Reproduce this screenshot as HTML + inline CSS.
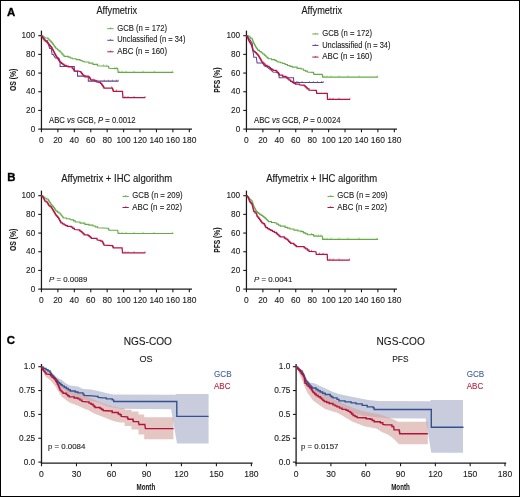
<!DOCTYPE html>
<html><head><meta charset="utf-8"><style>html,body{margin:0;padding:0;background:#fff;width:520px;height:497px;overflow:hidden}</style></head>
<body><svg width="520" height="497" viewBox="0 0 520 497" style="display:block;will-change:transform"><g font-family='"Liberation Sans", sans-serif'><rect x="0" y="0" width="520" height="497" fill="#fff"/><text x="7.0" y="15.6" font-size="11.4" text-anchor="start" font-weight="bold" fill="#000" stroke="#000" stroke-width="0.35" >A</text><text x="96.5" y="14.4" font-size="10.4" text-anchor="start" font-weight="normal" fill="#1a1a1a" stroke="#1a1a1a" stroke-width="0.15" textLength="40.6" lengthAdjust="spacingAndGlyphs" >Affymetrix</text><text x="301.5" y="14.4" font-size="10.4" text-anchor="start" font-weight="normal" fill="#1a1a1a" stroke="#1a1a1a" stroke-width="0.15" textLength="40.6" lengthAdjust="spacingAndGlyphs" >Affymetrix</text><line x1="41.45" y1="30.6" x2="41.45" y2="129.7" stroke="#1a1a1a" stroke-width="1.25"/><line x1="38.25" y1="129.1" x2="41.45" y2="129.1" stroke="#1a1a1a" stroke-width="1.1"/><text x="35.2" y="131.6" font-size="8.2" text-anchor="end" font-weight="normal" fill="#1a1a1a" stroke="#1a1a1a" stroke-width="0.1" >0</text><line x1="38.25" y1="110.42" x2="41.45" y2="110.42" stroke="#1a1a1a" stroke-width="1.1"/><text x="35.2" y="112.92" font-size="8.2" text-anchor="end" font-weight="normal" fill="#1a1a1a" stroke="#1a1a1a" stroke-width="0.1" >20</text><line x1="38.25" y1="91.74" x2="41.45" y2="91.74" stroke="#1a1a1a" stroke-width="1.1"/><text x="35.2" y="94.24" font-size="8.2" text-anchor="end" font-weight="normal" fill="#1a1a1a" stroke="#1a1a1a" stroke-width="0.1" >40</text><line x1="38.25" y1="73.06" x2="41.45" y2="73.06" stroke="#1a1a1a" stroke-width="1.1"/><text x="35.2" y="75.56" font-size="8.2" text-anchor="end" font-weight="normal" fill="#1a1a1a" stroke="#1a1a1a" stroke-width="0.1" >60</text><line x1="38.25" y1="54.38" x2="41.45" y2="54.38" stroke="#1a1a1a" stroke-width="1.1"/><text x="35.2" y="56.88" font-size="8.2" text-anchor="end" font-weight="normal" fill="#1a1a1a" stroke="#1a1a1a" stroke-width="0.1" >80</text><line x1="38.25" y1="35.7" x2="41.45" y2="35.7" stroke="#1a1a1a" stroke-width="1.1"/><text x="35.2" y="38.2" font-size="8.2" text-anchor="end" font-weight="normal" fill="#1a1a1a" stroke="#1a1a1a" stroke-width="0.1" >100</text><line x1="40.85" y1="129.1" x2="192" y2="129.1" stroke="#1a1a1a" stroke-width="1.3"/><line x1="41.45" y1="129.1" x2="41.45" y2="132.3" stroke="#1a1a1a" stroke-width="1.1"/><text x="41.45" y="142.9" font-size="8.45" text-anchor="middle" font-weight="normal" fill="#1a1a1a" stroke="#1a1a1a" stroke-width="0.1" >0</text><line x1="57.88" y1="129.1" x2="57.88" y2="132.3" stroke="#1a1a1a" stroke-width="1.1"/><text x="57.88" y="142.9" font-size="8.45" text-anchor="middle" font-weight="normal" fill="#1a1a1a" stroke="#1a1a1a" stroke-width="0.1" >20</text><line x1="74.31" y1="129.1" x2="74.31" y2="132.3" stroke="#1a1a1a" stroke-width="1.1"/><text x="74.31" y="142.9" font-size="8.45" text-anchor="middle" font-weight="normal" fill="#1a1a1a" stroke="#1a1a1a" stroke-width="0.1" >40</text><line x1="90.74" y1="129.1" x2="90.74" y2="132.3" stroke="#1a1a1a" stroke-width="1.1"/><text x="90.74" y="142.9" font-size="8.45" text-anchor="middle" font-weight="normal" fill="#1a1a1a" stroke="#1a1a1a" stroke-width="0.1" >60</text><line x1="107.17" y1="129.1" x2="107.17" y2="132.3" stroke="#1a1a1a" stroke-width="1.1"/><text x="107.17" y="142.9" font-size="8.45" text-anchor="middle" font-weight="normal" fill="#1a1a1a" stroke="#1a1a1a" stroke-width="0.1" >80</text><line x1="123.6" y1="129.1" x2="123.6" y2="132.3" stroke="#1a1a1a" stroke-width="1.1"/><text x="123.6" y="142.9" font-size="8.45" text-anchor="middle" font-weight="normal" fill="#1a1a1a" stroke="#1a1a1a" stroke-width="0.1" >100</text><line x1="140.03" y1="129.1" x2="140.03" y2="132.3" stroke="#1a1a1a" stroke-width="1.1"/><text x="140.03" y="142.9" font-size="8.45" text-anchor="middle" font-weight="normal" fill="#1a1a1a" stroke="#1a1a1a" stroke-width="0.1" >120</text><line x1="156.46" y1="129.1" x2="156.46" y2="132.3" stroke="#1a1a1a" stroke-width="1.1"/><text x="156.46" y="142.9" font-size="8.45" text-anchor="middle" font-weight="normal" fill="#1a1a1a" stroke="#1a1a1a" stroke-width="0.1" >140</text><line x1="172.89" y1="129.1" x2="172.89" y2="132.3" stroke="#1a1a1a" stroke-width="1.1"/><text x="172.89" y="142.9" font-size="8.45" text-anchor="middle" font-weight="normal" fill="#1a1a1a" stroke="#1a1a1a" stroke-width="0.1" >160</text><line x1="189.32" y1="129.1" x2="189.32" y2="132.3" stroke="#1a1a1a" stroke-width="1.1"/><text x="189.32" y="142.9" font-size="8.45" text-anchor="middle" font-weight="normal" fill="#1a1a1a" stroke="#1a1a1a" stroke-width="0.1" >180</text><text x="0" y="0" font-size="9.6" font-weight="bold" text-anchor="middle" fill="#1a1a1a" stroke="#1a1a1a" stroke-width="0.1" textLength="22.3" lengthAdjust="spacingAndGlyphs" transform="translate(16.099999999999998,79.9) rotate(-90)">OS (%)</text><line x1="246.45" y1="30.6" x2="246.45" y2="129.7" stroke="#1a1a1a" stroke-width="1.25"/><line x1="243.25" y1="129.1" x2="246.45" y2="129.1" stroke="#1a1a1a" stroke-width="1.1"/><text x="240.2" y="131.6" font-size="8.2" text-anchor="end" font-weight="normal" fill="#1a1a1a" stroke="#1a1a1a" stroke-width="0.1" >0</text><line x1="243.25" y1="110.42" x2="246.45" y2="110.42" stroke="#1a1a1a" stroke-width="1.1"/><text x="240.2" y="112.92" font-size="8.2" text-anchor="end" font-weight="normal" fill="#1a1a1a" stroke="#1a1a1a" stroke-width="0.1" >20</text><line x1="243.25" y1="91.74" x2="246.45" y2="91.74" stroke="#1a1a1a" stroke-width="1.1"/><text x="240.2" y="94.24" font-size="8.2" text-anchor="end" font-weight="normal" fill="#1a1a1a" stroke="#1a1a1a" stroke-width="0.1" >40</text><line x1="243.25" y1="73.06" x2="246.45" y2="73.06" stroke="#1a1a1a" stroke-width="1.1"/><text x="240.2" y="75.56" font-size="8.2" text-anchor="end" font-weight="normal" fill="#1a1a1a" stroke="#1a1a1a" stroke-width="0.1" >60</text><line x1="243.25" y1="54.38" x2="246.45" y2="54.38" stroke="#1a1a1a" stroke-width="1.1"/><text x="240.2" y="56.88" font-size="8.2" text-anchor="end" font-weight="normal" fill="#1a1a1a" stroke="#1a1a1a" stroke-width="0.1" >80</text><line x1="243.25" y1="35.7" x2="246.45" y2="35.7" stroke="#1a1a1a" stroke-width="1.1"/><text x="240.2" y="38.2" font-size="8.2" text-anchor="end" font-weight="normal" fill="#1a1a1a" stroke="#1a1a1a" stroke-width="0.1" >100</text><line x1="245.85" y1="129.1" x2="397" y2="129.1" stroke="#1a1a1a" stroke-width="1.3"/><line x1="246.45" y1="129.1" x2="246.45" y2="132.3" stroke="#1a1a1a" stroke-width="1.1"/><text x="246.45" y="142.9" font-size="8.45" text-anchor="middle" font-weight="normal" fill="#1a1a1a" stroke="#1a1a1a" stroke-width="0.1" >0</text><line x1="262.88" y1="129.1" x2="262.88" y2="132.3" stroke="#1a1a1a" stroke-width="1.1"/><text x="262.88" y="142.9" font-size="8.45" text-anchor="middle" font-weight="normal" fill="#1a1a1a" stroke="#1a1a1a" stroke-width="0.1" >20</text><line x1="279.31" y1="129.1" x2="279.31" y2="132.3" stroke="#1a1a1a" stroke-width="1.1"/><text x="279.31" y="142.9" font-size="8.45" text-anchor="middle" font-weight="normal" fill="#1a1a1a" stroke="#1a1a1a" stroke-width="0.1" >40</text><line x1="295.74" y1="129.1" x2="295.74" y2="132.3" stroke="#1a1a1a" stroke-width="1.1"/><text x="295.74" y="142.9" font-size="8.45" text-anchor="middle" font-weight="normal" fill="#1a1a1a" stroke="#1a1a1a" stroke-width="0.1" >60</text><line x1="312.17" y1="129.1" x2="312.17" y2="132.3" stroke="#1a1a1a" stroke-width="1.1"/><text x="312.17" y="142.9" font-size="8.45" text-anchor="middle" font-weight="normal" fill="#1a1a1a" stroke="#1a1a1a" stroke-width="0.1" >80</text><line x1="328.6" y1="129.1" x2="328.6" y2="132.3" stroke="#1a1a1a" stroke-width="1.1"/><text x="328.6" y="142.9" font-size="8.45" text-anchor="middle" font-weight="normal" fill="#1a1a1a" stroke="#1a1a1a" stroke-width="0.1" >100</text><line x1="345.03" y1="129.1" x2="345.03" y2="132.3" stroke="#1a1a1a" stroke-width="1.1"/><text x="345.03" y="142.9" font-size="8.45" text-anchor="middle" font-weight="normal" fill="#1a1a1a" stroke="#1a1a1a" stroke-width="0.1" >120</text><line x1="361.46" y1="129.1" x2="361.46" y2="132.3" stroke="#1a1a1a" stroke-width="1.1"/><text x="361.46" y="142.9" font-size="8.45" text-anchor="middle" font-weight="normal" fill="#1a1a1a" stroke="#1a1a1a" stroke-width="0.1" >140</text><line x1="377.89" y1="129.1" x2="377.89" y2="132.3" stroke="#1a1a1a" stroke-width="1.1"/><text x="377.89" y="142.9" font-size="8.45" text-anchor="middle" font-weight="normal" fill="#1a1a1a" stroke="#1a1a1a" stroke-width="0.1" >160</text><line x1="394.32" y1="129.1" x2="394.32" y2="132.3" stroke="#1a1a1a" stroke-width="1.1"/><text x="394.32" y="142.9" font-size="8.45" text-anchor="middle" font-weight="normal" fill="#1a1a1a" stroke="#1a1a1a" stroke-width="0.1" >180</text><text x="0" y="0" font-size="9.6" font-weight="bold" text-anchor="middle" fill="#1a1a1a" stroke="#1a1a1a" stroke-width="0.1" textLength="25.2" lengthAdjust="spacingAndGlyphs" transform="translate(220.3,80.2) rotate(-90)">PFS (%)</text><line x1="107.3" y1="28.7" x2="113.6" y2="28.7" stroke="#64ad46" stroke-width="1.0"/><line x1="110.45" y1="27.5" x2="110.45" y2="28.7" stroke="#64ad46" stroke-width="0.8"/><text x="117.2" y="30.8" font-size="8.2" text-anchor="start" font-weight="normal" fill="#1a1a1a" stroke="#1a1a1a" stroke-width="0.1" textLength="49.9" lengthAdjust="spacingAndGlyphs" >GCB (n = 172)</text><line x1="107.3" y1="40.3" x2="113.6" y2="40.3" stroke="#5f4494" stroke-width="1.0"/><line x1="110.45" y1="39.1" x2="110.45" y2="40.3" stroke="#5f4494" stroke-width="0.8"/><text x="117.2" y="42.1" font-size="8.2" text-anchor="start" font-weight="normal" fill="#1a1a1a" stroke="#1a1a1a" stroke-width="0.1" textLength="68.3" lengthAdjust="spacingAndGlyphs" >Unclassified (n = 34)</text><line x1="107.3" y1="51.8" x2="113.6" y2="51.8" stroke="#b31645" stroke-width="1.0"/><line x1="110.45" y1="50.6" x2="110.45" y2="51.8" stroke="#b31645" stroke-width="0.8"/><text x="117.2" y="53.5" font-size="8.2" text-anchor="start" font-weight="normal" fill="#1a1a1a" stroke="#1a1a1a" stroke-width="0.1" textLength="49.9" lengthAdjust="spacingAndGlyphs" >ABC (n = 160)</text><line x1="312.3" y1="34.0" x2="318.6" y2="34.0" stroke="#64ad46" stroke-width="1.0"/><line x1="315.45" y1="32.8" x2="315.45" y2="34.0" stroke="#64ad46" stroke-width="0.8"/><text x="322.2" y="36.3" font-size="8.2" text-anchor="start" font-weight="normal" fill="#1a1a1a" stroke="#1a1a1a" stroke-width="0.1" textLength="49.9" lengthAdjust="spacingAndGlyphs" >GCB (n = 172)</text><line x1="312.3" y1="45.4" x2="318.6" y2="45.4" stroke="#5f4494" stroke-width="1.0"/><line x1="315.45" y1="44.2" x2="315.45" y2="45.4" stroke="#5f4494" stroke-width="0.8"/><text x="322.2" y="47.6" font-size="8.2" text-anchor="start" font-weight="normal" fill="#1a1a1a" stroke="#1a1a1a" stroke-width="0.1" textLength="68.3" lengthAdjust="spacingAndGlyphs" >Unclassified (n = 34)</text><line x1="312.3" y1="57.1" x2="318.6" y2="57.1" stroke="#b31645" stroke-width="1.0"/><line x1="315.45" y1="55.9" x2="315.45" y2="57.1" stroke="#b31645" stroke-width="0.8"/><text x="322.2" y="58.8" font-size="8.2" text-anchor="start" font-weight="normal" fill="#1a1a1a" stroke="#1a1a1a" stroke-width="0.1" textLength="49.9" lengthAdjust="spacingAndGlyphs" >ABC (n = 160)</text><text x="49.0" y="122.7" font-size="8.4" text-anchor="start" font-weight="normal" fill="#1a1a1a" stroke="#1a1a1a" stroke-width="0.1" textLength="86.6" lengthAdjust="spacingAndGlyphs" >ABC <tspan font-style="italic">vs</tspan> GCB, <tspan font-style="italic">P</tspan> = 0.0012</text><text x="254.0" y="122.7" font-size="8.4" text-anchor="start" font-weight="normal" fill="#1a1a1a" stroke="#1a1a1a" stroke-width="0.1" textLength="86.5" lengthAdjust="spacingAndGlyphs" >ABC <tspan font-style="italic">vs</tspan> GCB, <tspan font-style="italic">P</tspan> = 0.0024</text><text x="7.3" y="181.0" font-size="11.4" text-anchor="start" font-weight="bold" fill="#000" stroke="#000" stroke-width="0.35" >B</text><text x="61.2" y="182.1" font-size="10.2" text-anchor="start" font-weight="normal" fill="#1a1a1a" stroke="#1a1a1a" stroke-width="0.15" textLength="110.9" lengthAdjust="spacingAndGlyphs" >Affymetrix + IHC algorithm</text><text x="266.2" y="182.1" font-size="10.2" text-anchor="start" font-weight="normal" fill="#1a1a1a" stroke="#1a1a1a" stroke-width="0.15" textLength="110.9" lengthAdjust="spacingAndGlyphs" >Affymetrix + IHC algorithm</text><line x1="41.45" y1="190.6" x2="41.45" y2="289.7" stroke="#1a1a1a" stroke-width="1.25"/><line x1="38.25" y1="289.1" x2="41.45" y2="289.1" stroke="#1a1a1a" stroke-width="1.1"/><text x="35.2" y="291.6" font-size="8.2" text-anchor="end" font-weight="normal" fill="#1a1a1a" stroke="#1a1a1a" stroke-width="0.1" >0</text><line x1="38.25" y1="270.42" x2="41.45" y2="270.42" stroke="#1a1a1a" stroke-width="1.1"/><text x="35.2" y="272.92" font-size="8.2" text-anchor="end" font-weight="normal" fill="#1a1a1a" stroke="#1a1a1a" stroke-width="0.1" >20</text><line x1="38.25" y1="251.74" x2="41.45" y2="251.74" stroke="#1a1a1a" stroke-width="1.1"/><text x="35.2" y="254.24" font-size="8.2" text-anchor="end" font-weight="normal" fill="#1a1a1a" stroke="#1a1a1a" stroke-width="0.1" >40</text><line x1="38.25" y1="233.06" x2="41.45" y2="233.06" stroke="#1a1a1a" stroke-width="1.1"/><text x="35.2" y="235.56" font-size="8.2" text-anchor="end" font-weight="normal" fill="#1a1a1a" stroke="#1a1a1a" stroke-width="0.1" >60</text><line x1="38.25" y1="214.38" x2="41.45" y2="214.38" stroke="#1a1a1a" stroke-width="1.1"/><text x="35.2" y="216.88" font-size="8.2" text-anchor="end" font-weight="normal" fill="#1a1a1a" stroke="#1a1a1a" stroke-width="0.1" >80</text><line x1="38.25" y1="195.7" x2="41.45" y2="195.7" stroke="#1a1a1a" stroke-width="1.1"/><text x="35.2" y="198.2" font-size="8.2" text-anchor="end" font-weight="normal" fill="#1a1a1a" stroke="#1a1a1a" stroke-width="0.1" >100</text><line x1="40.85" y1="289.1" x2="192" y2="289.1" stroke="#1a1a1a" stroke-width="1.3"/><line x1="41.45" y1="289.1" x2="41.45" y2="292.3" stroke="#1a1a1a" stroke-width="1.1"/><text x="41.45" y="302.9" font-size="8.45" text-anchor="middle" font-weight="normal" fill="#1a1a1a" stroke="#1a1a1a" stroke-width="0.1" >0</text><line x1="57.88" y1="289.1" x2="57.88" y2="292.3" stroke="#1a1a1a" stroke-width="1.1"/><text x="57.88" y="302.9" font-size="8.45" text-anchor="middle" font-weight="normal" fill="#1a1a1a" stroke="#1a1a1a" stroke-width="0.1" >20</text><line x1="74.31" y1="289.1" x2="74.31" y2="292.3" stroke="#1a1a1a" stroke-width="1.1"/><text x="74.31" y="302.9" font-size="8.45" text-anchor="middle" font-weight="normal" fill="#1a1a1a" stroke="#1a1a1a" stroke-width="0.1" >40</text><line x1="90.74" y1="289.1" x2="90.74" y2="292.3" stroke="#1a1a1a" stroke-width="1.1"/><text x="90.74" y="302.9" font-size="8.45" text-anchor="middle" font-weight="normal" fill="#1a1a1a" stroke="#1a1a1a" stroke-width="0.1" >60</text><line x1="107.17" y1="289.1" x2="107.17" y2="292.3" stroke="#1a1a1a" stroke-width="1.1"/><text x="107.17" y="302.9" font-size="8.45" text-anchor="middle" font-weight="normal" fill="#1a1a1a" stroke="#1a1a1a" stroke-width="0.1" >80</text><line x1="123.6" y1="289.1" x2="123.6" y2="292.3" stroke="#1a1a1a" stroke-width="1.1"/><text x="123.6" y="302.9" font-size="8.45" text-anchor="middle" font-weight="normal" fill="#1a1a1a" stroke="#1a1a1a" stroke-width="0.1" >100</text><line x1="140.03" y1="289.1" x2="140.03" y2="292.3" stroke="#1a1a1a" stroke-width="1.1"/><text x="140.03" y="302.9" font-size="8.45" text-anchor="middle" font-weight="normal" fill="#1a1a1a" stroke="#1a1a1a" stroke-width="0.1" >120</text><line x1="156.46" y1="289.1" x2="156.46" y2="292.3" stroke="#1a1a1a" stroke-width="1.1"/><text x="156.46" y="302.9" font-size="8.45" text-anchor="middle" font-weight="normal" fill="#1a1a1a" stroke="#1a1a1a" stroke-width="0.1" >140</text><line x1="172.89" y1="289.1" x2="172.89" y2="292.3" stroke="#1a1a1a" stroke-width="1.1"/><text x="172.89" y="302.9" font-size="8.45" text-anchor="middle" font-weight="normal" fill="#1a1a1a" stroke="#1a1a1a" stroke-width="0.1" >160</text><line x1="189.32" y1="289.1" x2="189.32" y2="292.3" stroke="#1a1a1a" stroke-width="1.1"/><text x="189.32" y="302.9" font-size="8.45" text-anchor="middle" font-weight="normal" fill="#1a1a1a" stroke="#1a1a1a" stroke-width="0.1" >180</text><text x="0" y="0" font-size="9.6" font-weight="bold" text-anchor="middle" fill="#1a1a1a" stroke="#1a1a1a" stroke-width="0.1" textLength="22.3" lengthAdjust="spacingAndGlyphs" transform="translate(16.099999999999998,239.9) rotate(-90)">OS (%)</text><line x1="246.45" y1="190.6" x2="246.45" y2="289.7" stroke="#1a1a1a" stroke-width="1.25"/><line x1="243.25" y1="289.1" x2="246.45" y2="289.1" stroke="#1a1a1a" stroke-width="1.1"/><text x="240.2" y="291.6" font-size="8.2" text-anchor="end" font-weight="normal" fill="#1a1a1a" stroke="#1a1a1a" stroke-width="0.1" >0</text><line x1="243.25" y1="270.42" x2="246.45" y2="270.42" stroke="#1a1a1a" stroke-width="1.1"/><text x="240.2" y="272.92" font-size="8.2" text-anchor="end" font-weight="normal" fill="#1a1a1a" stroke="#1a1a1a" stroke-width="0.1" >20</text><line x1="243.25" y1="251.74" x2="246.45" y2="251.74" stroke="#1a1a1a" stroke-width="1.1"/><text x="240.2" y="254.24" font-size="8.2" text-anchor="end" font-weight="normal" fill="#1a1a1a" stroke="#1a1a1a" stroke-width="0.1" >40</text><line x1="243.25" y1="233.06" x2="246.45" y2="233.06" stroke="#1a1a1a" stroke-width="1.1"/><text x="240.2" y="235.56" font-size="8.2" text-anchor="end" font-weight="normal" fill="#1a1a1a" stroke="#1a1a1a" stroke-width="0.1" >60</text><line x1="243.25" y1="214.38" x2="246.45" y2="214.38" stroke="#1a1a1a" stroke-width="1.1"/><text x="240.2" y="216.88" font-size="8.2" text-anchor="end" font-weight="normal" fill="#1a1a1a" stroke="#1a1a1a" stroke-width="0.1" >80</text><line x1="243.25" y1="195.7" x2="246.45" y2="195.7" stroke="#1a1a1a" stroke-width="1.1"/><text x="240.2" y="198.2" font-size="8.2" text-anchor="end" font-weight="normal" fill="#1a1a1a" stroke="#1a1a1a" stroke-width="0.1" >100</text><line x1="245.85" y1="289.1" x2="397" y2="289.1" stroke="#1a1a1a" stroke-width="1.3"/><line x1="246.45" y1="289.1" x2="246.45" y2="292.3" stroke="#1a1a1a" stroke-width="1.1"/><text x="246.45" y="302.9" font-size="8.45" text-anchor="middle" font-weight="normal" fill="#1a1a1a" stroke="#1a1a1a" stroke-width="0.1" >0</text><line x1="262.88" y1="289.1" x2="262.88" y2="292.3" stroke="#1a1a1a" stroke-width="1.1"/><text x="262.88" y="302.9" font-size="8.45" text-anchor="middle" font-weight="normal" fill="#1a1a1a" stroke="#1a1a1a" stroke-width="0.1" >20</text><line x1="279.31" y1="289.1" x2="279.31" y2="292.3" stroke="#1a1a1a" stroke-width="1.1"/><text x="279.31" y="302.9" font-size="8.45" text-anchor="middle" font-weight="normal" fill="#1a1a1a" stroke="#1a1a1a" stroke-width="0.1" >40</text><line x1="295.74" y1="289.1" x2="295.74" y2="292.3" stroke="#1a1a1a" stroke-width="1.1"/><text x="295.74" y="302.9" font-size="8.45" text-anchor="middle" font-weight="normal" fill="#1a1a1a" stroke="#1a1a1a" stroke-width="0.1" >60</text><line x1="312.17" y1="289.1" x2="312.17" y2="292.3" stroke="#1a1a1a" stroke-width="1.1"/><text x="312.17" y="302.9" font-size="8.45" text-anchor="middle" font-weight="normal" fill="#1a1a1a" stroke="#1a1a1a" stroke-width="0.1" >80</text><line x1="328.6" y1="289.1" x2="328.6" y2="292.3" stroke="#1a1a1a" stroke-width="1.1"/><text x="328.6" y="302.9" font-size="8.45" text-anchor="middle" font-weight="normal" fill="#1a1a1a" stroke="#1a1a1a" stroke-width="0.1" >100</text><line x1="345.03" y1="289.1" x2="345.03" y2="292.3" stroke="#1a1a1a" stroke-width="1.1"/><text x="345.03" y="302.9" font-size="8.45" text-anchor="middle" font-weight="normal" fill="#1a1a1a" stroke="#1a1a1a" stroke-width="0.1" >120</text><line x1="361.46" y1="289.1" x2="361.46" y2="292.3" stroke="#1a1a1a" stroke-width="1.1"/><text x="361.46" y="302.9" font-size="8.45" text-anchor="middle" font-weight="normal" fill="#1a1a1a" stroke="#1a1a1a" stroke-width="0.1" >140</text><line x1="377.89" y1="289.1" x2="377.89" y2="292.3" stroke="#1a1a1a" stroke-width="1.1"/><text x="377.89" y="302.9" font-size="8.45" text-anchor="middle" font-weight="normal" fill="#1a1a1a" stroke="#1a1a1a" stroke-width="0.1" >160</text><line x1="394.32" y1="289.1" x2="394.32" y2="292.3" stroke="#1a1a1a" stroke-width="1.1"/><text x="394.32" y="302.9" font-size="8.45" text-anchor="middle" font-weight="normal" fill="#1a1a1a" stroke="#1a1a1a" stroke-width="0.1" >180</text><text x="0" y="0" font-size="9.6" font-weight="bold" text-anchor="middle" fill="#1a1a1a" stroke="#1a1a1a" stroke-width="0.1" textLength="25.2" lengthAdjust="spacingAndGlyphs" transform="translate(220.3,240.2) rotate(-90)">PFS (%)</text><line x1="122.5" y1="196.4" x2="128.8" y2="196.4" stroke="#64ad46" stroke-width="1.0"/><line x1="125.65" y1="195.2" x2="125.65" y2="196.4" stroke="#64ad46" stroke-width="0.8"/><text x="132.3" y="198.1" font-size="8.2" text-anchor="start" font-weight="normal" fill="#1a1a1a" stroke="#1a1a1a" stroke-width="0.1" textLength="50.3" lengthAdjust="spacingAndGlyphs" >GCB (n = 209)</text><line x1="122.5" y1="207.5" x2="128.8" y2="207.5" stroke="#b31645" stroke-width="1.0"/><line x1="125.65" y1="206.3" x2="125.65" y2="207.5" stroke="#b31645" stroke-width="0.8"/><text x="132.3" y="210.2" font-size="8.2" text-anchor="start" font-weight="normal" fill="#1a1a1a" stroke="#1a1a1a" stroke-width="0.1" textLength="49.7" lengthAdjust="spacingAndGlyphs" >ABC (n = 202)</text><line x1="327.5" y1="196.4" x2="333.8" y2="196.4" stroke="#64ad46" stroke-width="1.0"/><line x1="330.65" y1="195.2" x2="330.65" y2="196.4" stroke="#64ad46" stroke-width="0.8"/><text x="337.3" y="198.1" font-size="8.2" text-anchor="start" font-weight="normal" fill="#1a1a1a" stroke="#1a1a1a" stroke-width="0.1" textLength="50.3" lengthAdjust="spacingAndGlyphs" >GCB (n = 209)</text><line x1="327.5" y1="207.5" x2="333.8" y2="207.5" stroke="#b31645" stroke-width="1.0"/><line x1="330.65" y1="206.3" x2="330.65" y2="207.5" stroke="#b31645" stroke-width="0.8"/><text x="337.3" y="210.2" font-size="8.2" text-anchor="start" font-weight="normal" fill="#1a1a1a" stroke="#1a1a1a" stroke-width="0.1" textLength="49.7" lengthAdjust="spacingAndGlyphs" >ABC (n = 202)</text><text x="49.0" y="282.4" font-size="8.0" text-anchor="start" font-weight="normal" fill="#1a1a1a" stroke="#1a1a1a" stroke-width="0.1" textLength="38.3" lengthAdjust="spacingAndGlyphs" ><tspan font-style="italic">P</tspan> = 0.0089</text><text x="254.0" y="282.4" font-size="8.0" text-anchor="start" font-weight="normal" fill="#1a1a1a" stroke="#1a1a1a" stroke-width="0.1" textLength="38.3" lengthAdjust="spacingAndGlyphs" ><tspan font-style="italic">P</tspan> = 0.0041</text><text x="6.8" y="343.9" font-size="11.4" text-anchor="start" font-weight="bold" fill="#000" stroke="#000" stroke-width="0.35" >C</text><line x1="41.5" y1="364.0" x2="41.5" y2="463.65" stroke="#1a1a1a" stroke-width="1.3"/><line x1="38.3" y1="462.1" x2="41.5" y2="462.1" stroke="#1a1a1a" stroke-width="1.1"/><text x="35.2" y="464.7" font-size="8.3" text-anchor="end" font-weight="normal" fill="#1a1a1a" stroke="#1a1a1a" stroke-width="0.1" >0.0</text><line x1="38.3" y1="438.25" x2="41.5" y2="438.25" stroke="#1a1a1a" stroke-width="1.1"/><text x="35.2" y="440.85" font-size="8.3" text-anchor="end" font-weight="normal" fill="#1a1a1a" stroke="#1a1a1a" stroke-width="0.1" >0.25</text><line x1="38.3" y1="414.4" x2="41.5" y2="414.4" stroke="#1a1a1a" stroke-width="1.1"/><text x="35.2" y="417" font-size="8.3" text-anchor="end" font-weight="normal" fill="#1a1a1a" stroke="#1a1a1a" stroke-width="0.1" >0.5</text><line x1="38.3" y1="390.55" x2="41.5" y2="390.55" stroke="#1a1a1a" stroke-width="1.1"/><text x="35.2" y="393.15" font-size="8.3" text-anchor="end" font-weight="normal" fill="#1a1a1a" stroke="#1a1a1a" stroke-width="0.1" >0.75</text><line x1="38.3" y1="366.7" x2="41.5" y2="366.7" stroke="#1a1a1a" stroke-width="1.1"/><text x="35.2" y="369.3" font-size="8.3" text-anchor="end" font-weight="normal" fill="#1a1a1a" stroke="#1a1a1a" stroke-width="0.1" >1.0</text><line x1="40.9" y1="463.05" x2="252.6" y2="463.05" stroke="#1a1a1a" stroke-width="1.3"/><line x1="41.5" y1="463.05" x2="41.5" y2="466.25" stroke="#1a1a1a" stroke-width="1.1"/><text x="41.5" y="476.9" font-size="8.6" text-anchor="middle" font-weight="normal" fill="#1a1a1a" stroke="#1a1a1a" stroke-width="0.1" >0</text><line x1="76.48" y1="463.05" x2="76.48" y2="466.25" stroke="#1a1a1a" stroke-width="1.1"/><text x="76.48" y="476.9" font-size="8.6" text-anchor="middle" font-weight="normal" fill="#1a1a1a" stroke="#1a1a1a" stroke-width="0.1" >30</text><line x1="111.47" y1="463.05" x2="111.47" y2="466.25" stroke="#1a1a1a" stroke-width="1.1"/><text x="111.47" y="476.9" font-size="8.6" text-anchor="middle" font-weight="normal" fill="#1a1a1a" stroke="#1a1a1a" stroke-width="0.1" >60</text><line x1="146.45" y1="463.05" x2="146.45" y2="466.25" stroke="#1a1a1a" stroke-width="1.1"/><text x="146.45" y="476.9" font-size="8.6" text-anchor="middle" font-weight="normal" fill="#1a1a1a" stroke="#1a1a1a" stroke-width="0.1" >90</text><line x1="181.43" y1="463.05" x2="181.43" y2="466.25" stroke="#1a1a1a" stroke-width="1.1"/><text x="181.43" y="476.9" font-size="8.6" text-anchor="middle" font-weight="normal" fill="#1a1a1a" stroke="#1a1a1a" stroke-width="0.1" >120</text><line x1="216.42" y1="463.05" x2="216.42" y2="466.25" stroke="#1a1a1a" stroke-width="1.1"/><text x="216.42" y="476.9" font-size="8.6" text-anchor="middle" font-weight="normal" fill="#1a1a1a" stroke="#1a1a1a" stroke-width="0.1" >150</text><line x1="251.4" y1="463.05" x2="251.4" y2="466.25" stroke="#1a1a1a" stroke-width="1.1"/><text x="251.4" y="476.9" font-size="8.6" text-anchor="middle" font-weight="normal" fill="#1a1a1a" stroke="#1a1a1a" stroke-width="0.1" >180</text><text x="123.7" y="344.9" font-size="10.2" text-anchor="start" font-weight="normal" fill="#1a1a1a" stroke="#1a1a1a" stroke-width="0.1" textLength="48.3" lengthAdjust="spacingAndGlyphs" >NGS-COO</text><text x="139.4" y="361.8" font-size="9.0" text-anchor="start" font-weight="normal" fill="#1a1a1a" stroke="#1a1a1a" stroke-width="0.1" textLength="13.1" lengthAdjust="spacingAndGlyphs" >OS</text><text x="214.0" y="377.2" font-size="8.2" text-anchor="start" font-weight="normal" fill="#46639c" stroke="#46639c" stroke-width="0.1" textLength="17.6" lengthAdjust="spacingAndGlyphs" >GCB</text><text x="214.0" y="388.9" font-size="8.2" text-anchor="start" font-weight="normal" fill="#b8243f" stroke="#b8243f" stroke-width="0.1" textLength="16.5" lengthAdjust="spacingAndGlyphs" >ABC</text><text x="47.9" y="449.3" font-size="7.4" text-anchor="start" font-weight="normal" fill="#1a1a1a" stroke="#1a1a1a" stroke-width="0.1" textLength="37.5" lengthAdjust="spacingAndGlyphs" >p = 0.0084</text><text x="145.9" y="490.0" font-size="9.6" text-anchor="middle" font-weight="bold" fill="#1a1a1a" stroke="#1a1a1a" stroke-width="0.05" textLength="18.6" lengthAdjust="spacingAndGlyphs" >Month</text><line x1="296.1" y1="364.0" x2="296.1" y2="463.65" stroke="#1a1a1a" stroke-width="1.3"/><line x1="292.9" y1="462.1" x2="296.1" y2="462.1" stroke="#1a1a1a" stroke-width="1.1"/><text x="290.4" y="464.7" font-size="8.3" text-anchor="end" font-weight="normal" fill="#1a1a1a" stroke="#1a1a1a" stroke-width="0.1" >0.0</text><line x1="292.9" y1="438.25" x2="296.1" y2="438.25" stroke="#1a1a1a" stroke-width="1.1"/><text x="290.4" y="440.85" font-size="8.3" text-anchor="end" font-weight="normal" fill="#1a1a1a" stroke="#1a1a1a" stroke-width="0.1" >0.25</text><line x1="292.9" y1="414.4" x2="296.1" y2="414.4" stroke="#1a1a1a" stroke-width="1.1"/><text x="290.4" y="417" font-size="8.3" text-anchor="end" font-weight="normal" fill="#1a1a1a" stroke="#1a1a1a" stroke-width="0.1" >0.5</text><line x1="292.9" y1="390.55" x2="296.1" y2="390.55" stroke="#1a1a1a" stroke-width="1.1"/><text x="290.4" y="393.15" font-size="8.3" text-anchor="end" font-weight="normal" fill="#1a1a1a" stroke="#1a1a1a" stroke-width="0.1" >0.75</text><line x1="292.9" y1="366.7" x2="296.1" y2="366.7" stroke="#1a1a1a" stroke-width="1.1"/><text x="290.4" y="369.3" font-size="8.3" text-anchor="end" font-weight="normal" fill="#1a1a1a" stroke="#1a1a1a" stroke-width="0.1" >1.0</text><line x1="295.5" y1="463.05" x2="506.2" y2="463.05" stroke="#1a1a1a" stroke-width="1.3"/><line x1="296.1" y1="463.05" x2="296.1" y2="466.25" stroke="#1a1a1a" stroke-width="1.1"/><text x="296.1" y="476.9" font-size="8.6" text-anchor="middle" font-weight="normal" fill="#1a1a1a" stroke="#1a1a1a" stroke-width="0.1" >0</text><line x1="330.92" y1="463.05" x2="330.92" y2="466.25" stroke="#1a1a1a" stroke-width="1.1"/><text x="330.92" y="476.9" font-size="8.6" text-anchor="middle" font-weight="normal" fill="#1a1a1a" stroke="#1a1a1a" stroke-width="0.1" >30</text><line x1="365.73" y1="463.05" x2="365.73" y2="466.25" stroke="#1a1a1a" stroke-width="1.1"/><text x="365.73" y="476.9" font-size="8.6" text-anchor="middle" font-weight="normal" fill="#1a1a1a" stroke="#1a1a1a" stroke-width="0.1" >60</text><line x1="400.55" y1="463.05" x2="400.55" y2="466.25" stroke="#1a1a1a" stroke-width="1.1"/><text x="400.55" y="476.9" font-size="8.6" text-anchor="middle" font-weight="normal" fill="#1a1a1a" stroke="#1a1a1a" stroke-width="0.1" >90</text><line x1="435.37" y1="463.05" x2="435.37" y2="466.25" stroke="#1a1a1a" stroke-width="1.1"/><text x="435.37" y="476.9" font-size="8.6" text-anchor="middle" font-weight="normal" fill="#1a1a1a" stroke="#1a1a1a" stroke-width="0.1" >120</text><line x1="470.18" y1="463.05" x2="470.18" y2="466.25" stroke="#1a1a1a" stroke-width="1.1"/><text x="470.18" y="476.9" font-size="8.6" text-anchor="middle" font-weight="normal" fill="#1a1a1a" stroke="#1a1a1a" stroke-width="0.1" >150</text><line x1="505.0" y1="463.05" x2="505.0" y2="466.25" stroke="#1a1a1a" stroke-width="1.1"/><text x="505.0" y="476.9" font-size="8.6" text-anchor="middle" font-weight="normal" fill="#1a1a1a" stroke="#1a1a1a" stroke-width="0.1" >180</text><text x="376.5" y="344.9" font-size="10.2" text-anchor="start" font-weight="normal" fill="#1a1a1a" stroke="#1a1a1a" stroke-width="0.1" textLength="48.3" lengthAdjust="spacingAndGlyphs" >NGS-COO</text><text x="392.3" y="361.8" font-size="9.0" text-anchor="start" font-weight="normal" fill="#1a1a1a" stroke="#1a1a1a" stroke-width="0.1" textLength="16.2" lengthAdjust="spacingAndGlyphs" >PFS</text><text x="466.7" y="377.2" font-size="8.2" text-anchor="start" font-weight="normal" fill="#46639c" stroke="#46639c" stroke-width="0.1" textLength="17.6" lengthAdjust="spacingAndGlyphs" >GCB</text><text x="466.7" y="388.9" font-size="8.2" text-anchor="start" font-weight="normal" fill="#b8243f" stroke="#b8243f" stroke-width="0.1" textLength="16.5" lengthAdjust="spacingAndGlyphs" >ABC</text><text x="301.0" y="449.3" font-size="7.4" text-anchor="start" font-weight="normal" fill="#1a1a1a" stroke="#1a1a1a" stroke-width="0.1" textLength="37.5" lengthAdjust="spacingAndGlyphs" >p = 0.0157</text><text x="400.5" y="490.0" font-size="9.6" text-anchor="middle" font-weight="bold" fill="#1a1a1a" stroke="#1a1a1a" stroke-width="0.05" textLength="18.6" lengthAdjust="spacingAndGlyphs" >Month</text><polygon points="41.10,366.80 46.00,369.00 50.00,371.00 54.00,375.10 58.00,378.10 62.00,380.10 66.00,383.60 70.00,385.60 78.00,386.50 83.00,389.00 91.10,389.60 98.10,391.10 108.20,393.60 113.20,394.60 175.70,394.80 175.70,393.90 208.60,393.90 208.60,443.60 177.00,443.60 171.10,409.20 120.30,408.70 108.00,406.60 98.00,402.60 88.00,400.60 78.00,399.10 70.00,395.00 62.00,389.00 58.00,384.60 54.00,379.50 50.00,375.00 46.00,372.00 41.10,367.00" fill="#c8ccdd" stroke="none" /><polygon points="41.10,366.80 46.00,372.00 50.00,373.00 54.00,376.00 58.00,380.50 62.00,385.60 66.00,388.60 70.00,391.10 78.00,393.10 88.00,397.10 98.10,401.60 108.20,405.20 120.00,408.10 124.60,408.10 124.60,409.80 131.50,409.80 131.50,411.50 138.50,411.50 138.50,414.40 144.20,414.40 144.20,417.30 173.40,417.30 173.40,439.20 144.20,439.20 144.20,434.60 138.50,434.60 138.50,429.40 131.50,429.40 131.50,426.00 124.60,426.00 124.60,422.50 120.00,422.50 114.00,421.20 104.00,417.20 94.00,413.50 88.00,410.00 84.00,408.50 78.00,405.80 70.00,402.80 66.00,400.00 62.00,397.00 58.00,390.80 55.00,385.80 50.00,380.00 45.00,376.20 41.10,367.20" fill="rgba(211,163,157,0.62)" stroke="none" /><polygon points="296.40,366.80 302.00,370.60 306.10,379.10 310.00,382.60 315.00,383.60 320.00,386.10 325.00,388.20 333.00,392.00 339.00,394.10 348.10,396.10 358.20,398.10 368.20,400.10 378.30,401.10 430.60,401.30 430.60,400.10 463.00,400.10 463.00,452.70 431.30,452.70 425.60,418.40 388.00,418.20 364.00,416.00 352.00,413.00 340.00,408.00 333.00,404.00 325.00,400.00 320.00,397.00 315.00,394.00 310.00,390.00 306.00,385.00 302.00,376.00 296.40,367.20" fill="#c8ccdd" stroke="none" /><polygon points="296.40,366.80 299.00,370.00 302.00,373.10 305.00,380.10 310.00,386.10 315.00,389.70 320.00,391.70 325.00,394.20 333.00,399.10 343.10,403.60 353.10,408.10 363.20,411.20 373.20,413.20 380.00,414.60 392.70,418.90 398.30,421.70 427.80,421.70 427.80,444.20 399.00,444.20 396.80,441.90 393.10,438.30 388.30,434.70 382.30,432.30 376.20,428.60 364.20,426.20 352.10,421.40 340.00,414.20 337.30,412.70 331.20,410.90 325.20,409.10 319.20,404.90 313.10,400.60 307.10,392.20 304.00,385.00 301.00,377.70 299.00,373.00 296.40,367.20" fill="rgba(211,163,157,0.62)" stroke="none" /><polyline points="41.10,367.10 43.55,367.10 43.55,368.45 46.00,368.45 46.00,369.80 48.00,369.80 48.00,371.05 50.00,371.05 50.00,372.30 50.67,372.30 50.67,373.33 51.33,373.33 51.33,374.37 52.00,374.37 52.00,375.40 53.03,375.40 53.03,376.57 54.07,376.57 54.07,377.73 55.10,377.73 55.10,378.90 56.10,378.90 56.10,380.07 57.10,380.07 57.10,381.23 58.10,381.23 58.10,382.40 59.43,382.40 59.43,383.57 60.77,383.57 60.77,384.73 62.10,384.73 62.10,385.90 64.15,385.90 64.15,387.20 66.20,387.20 66.20,388.50 68.20,388.50 68.20,389.75 70.20,389.75 70.20,391.00 75.20,391.00 75.20,392.00 78.00,392.00 78.00,392.90 82.00,392.90 83.00,392.90 83.00,394.15 84.00,394.15 84.00,395.40 92.10,395.90 97.10,396.40 98.10,396.40 98.10,397.40 103.20,397.90 106.20,397.90 106.20,398.90 112.20,398.90 112.20,399.90 113.70,399.90 113.70,401.50 176.80,401.50 176.80,416.40 208.60,416.40" fill="none" stroke="#34528f" stroke-width="1.4" stroke-linejoin="miter" stroke-linecap="butt" /><polyline points="41.10,367.10 41.83,367.10 41.83,368.18 42.55,368.18 42.55,369.25 43.27,369.25 43.27,370.33 44.00,370.33 44.00,371.40 45.00,371.40 45.00,372.65 46.00,372.65 46.00,373.90 49.10,374.40 50.60,374.40 50.60,375.90 52.10,375.90 52.10,377.40 53.60,377.40 53.60,378.65 55.10,378.65 55.10,379.90 55.85,379.90 55.85,381.25 56.60,381.25 56.60,382.60 57.35,382.60 57.35,383.95 58.10,383.95 58.10,385.30 58.60,385.30 58.60,386.50 59.10,386.50 59.10,387.70 59.60,387.70 59.60,388.90 60.10,388.90 60.10,390.10 61.10,390.10 61.10,391.13 62.10,391.13 62.10,392.17 63.10,392.17 63.10,393.20 66.20,393.20 66.20,394.50 67.70,394.50 67.70,395.70 69.20,395.70 69.20,396.90 74.20,396.90 74.20,398.00 78.00,398.00 78.00,398.90 80.00,398.90 80.00,400.15 82.00,400.15 82.00,401.40 87.00,401.90 89.03,401.90 89.03,403.10 91.07,403.10 91.07,404.30 93.10,404.30 93.10,405.50 94.10,405.50 94.10,406.50 95.10,406.50 95.10,407.50 100.10,407.50 100.10,408.50 101.65,408.50 101.65,409.50 103.20,409.50 103.20,410.50 110.20,411.00 112.20,411.00 112.20,412.50 118.20,412.50 118.20,414.00 120.00,414.00 120.00,414.70 121.20,414.70 121.20,416.40 126.90,416.90 127.50,416.90 127.50,418.10 128.10,418.10 128.10,419.30 132.70,419.30 133.00,419.30 133.00,420.45 133.30,420.45 133.30,421.60 138.50,421.60 139.00,424.50 144.80,424.50 145.40,428.60 173.60,428.60" fill="none" stroke="#b3123c" stroke-width="1.4" stroke-linejoin="miter" stroke-linecap="butt" /><polyline points="296.40,367.10 297.70,367.10 297.70,368.45 299.00,368.45 299.00,369.80 300.50,369.80 300.50,371.05 302.00,371.05 302.00,372.30 302.70,372.30 302.70,373.67 303.40,373.67 303.40,375.03 304.10,375.03 304.10,376.40 304.60,376.40 304.60,377.65 305.10,377.65 305.10,378.90 305.60,378.90 305.60,380.15 306.10,380.15 306.10,381.40 307.10,381.40 307.10,382.57 308.10,382.57 308.10,383.73 309.10,383.73 309.10,384.90 310.10,384.90 310.10,385.93 311.10,385.93 311.10,386.97 312.10,386.97 312.10,388.00 316.10,388.00 316.10,389.50 318.15,389.50 318.15,390.75 320.20,390.75 320.20,392.00 322.70,392.00 322.70,393.25 325.20,393.25 325.20,394.50 330.20,394.50 330.20,396.00 331.60,396.00 331.60,396.95 333.00,396.95 333.00,397.90 337.00,397.90 337.00,399.40 339.00,399.40 339.00,400.90 345.10,400.90 345.10,401.90 351.10,401.90 351.10,402.90 356.10,402.90 356.10,403.90 362.20,403.90 362.20,405.40 367.20,405.40 367.20,406.90 373.20,406.90 373.20,407.90 374.20,407.90 374.20,409.50 431.30,409.50 431.30,427.30 463.50,427.30" fill="none" stroke="#34528f" stroke-width="1.4" stroke-linejoin="miter" stroke-linecap="butt" /><polyline points="296.40,367.10 297.27,367.10 297.27,368.17 298.13,368.17 298.13,369.23 299.00,369.23 299.00,370.30 300.00,370.30 300.00,371.67 301.00,371.67 301.00,373.03 302.00,373.03 302.00,374.40 303.05,374.40 303.05,375.90 304.10,375.90 304.10,377.40 304.30,377.40 304.30,378.60 304.50,378.60 304.50,379.80 304.70,379.80 304.70,381.00 304.90,381.00 304.90,382.20 305.10,382.20 305.10,383.40 306.60,383.40 306.60,384.90 308.10,384.90 308.10,386.40 309.60,386.40 309.60,387.70 311.10,387.70 311.10,389.00 311.77,389.00 311.77,390.17 312.43,390.17 312.43,391.33 313.10,391.33 313.10,392.50 314.60,392.50 314.60,394.00 316.10,394.00 316.10,395.50 318.15,395.50 318.15,396.75 320.20,396.75 320.20,398.00 321.53,398.00 321.53,399.17 322.87,399.17 322.87,400.33 324.20,400.33 324.20,401.50 326.70,401.50 326.70,402.50 329.20,402.50 329.20,403.50 333.00,403.50 333.00,404.90 335.00,404.90 335.00,405.90 337.00,405.90 337.00,406.90 339.55,406.90 339.55,408.15 342.10,408.15 342.10,409.40 346.10,409.40 346.10,410.20 348.10,410.20 348.10,411.35 350.10,411.35 350.10,412.50 351.60,412.50 351.60,414.00 353.10,414.00 353.10,415.50 355.10,415.50 355.10,416.50 357.10,416.50 357.10,417.50 363.20,417.70 366.20,417.70 366.20,418.70 370.20,418.70 370.20,419.30 372.20,419.30 372.20,420.55 374.20,420.55 374.20,421.80 380.30,421.80 380.30,422.80 382.80,422.80 382.80,424.50 385.60,424.90 391.90,424.90 391.90,426.50 393.60,426.50 394.10,429.70 399.00,429.90 399.23,429.90 399.23,431.17 399.47,431.17 399.47,432.43 399.70,432.43 399.70,433.70 427.80,433.70" fill="none" stroke="#b3123c" stroke-width="1.4" stroke-linejoin="miter" stroke-linecap="butt" /><polyline points="41.30,35.85 43.05,35.85 43.05,36.95 44.80,36.95 44.80,38.05 48.00,38.05 48.00,39.05 49.02,39.05 49.02,40.07 50.05,40.07 50.05,41.10 51.08,41.10 51.08,42.12 52.10,42.12 52.10,43.15 52.77,43.15 52.77,44.08 53.43,44.08 53.43,45.02 54.10,45.02 54.10,45.95 54.77,45.95 54.77,46.88 55.43,46.88 55.43,47.82 56.10,47.82 56.10,48.75 57.43,48.75 57.43,49.82 58.77,49.82 58.77,50.88 60.10,50.88 60.10,51.95 61.10,51.95 61.10,53.05 62.10,53.05 62.10,54.15 63.10,54.15 63.10,55.25 64.10,55.25 64.10,56.35 68.20,56.35 68.20,57.15 70.20,57.15 70.20,57.95 72.20,57.95 72.20,58.75 76.10,58.75 76.10,59.60 80.00,59.60 80.00,60.45 82.05,60.45 82.05,61.20 84.10,61.20 84.10,61.95 88.90,61.95 88.90,63.15 92.90,63.15 92.90,64.35 97.60,64.35 97.60,65.75 108.10,66.25 108.50,66.25 108.50,67.25 108.90,67.25 108.90,68.25 117.70,68.65 118.10,72.35 173.40,72.35" fill="none" stroke="#64ad46" stroke-width="1.1" stroke-linejoin="miter" stroke-linecap="butt" /><line x1="97.1" y1="63.95" x2="97.1" y2="65.35" stroke="#64ad46" stroke-width="0.6"/><line x1="103.5" y1="64.38" x2="103.5" y2="65.78" stroke="#64ad46" stroke-width="0.6"/><line x1="106.7" y1="64.53" x2="106.7" y2="65.93" stroke="#64ad46" stroke-width="0.6"/><line x1="114.8" y1="66.87" x2="114.8" y2="68.27" stroke="#64ad46" stroke-width="0.6"/><line x1="116.8" y1="66.96" x2="116.8" y2="68.36" stroke="#64ad46" stroke-width="0.6"/><line x1="119" y1="70.7" x2="119" y2="72.1" stroke="#64ad46" stroke-width="0.6"/><line x1="122" y1="70.7" x2="122" y2="72.1" stroke="#64ad46" stroke-width="0.6"/><line x1="126" y1="70.7" x2="126" y2="72.1" stroke="#64ad46" stroke-width="0.6"/><line x1="134" y1="70.7" x2="134" y2="72.1" stroke="#64ad46" stroke-width="0.6"/><line x1="143" y1="70.7" x2="143" y2="72.1" stroke="#64ad46" stroke-width="0.6"/><line x1="154.3" y1="70.7" x2="154.3" y2="72.1" stroke="#64ad46" stroke-width="0.6"/><line x1="172.2" y1="70.7" x2="172.2" y2="72.1" stroke="#64ad46" stroke-width="0.6"/><polyline points="41.50,35.60 45.60,40.70 47.60,40.70 47.60,42.00 49.70,48.50 51.30,48.50 52.10,54.50 53.30,54.50 55.30,57.90 58.90,57.90 60.10,62.00 60.10,66.40 74.30,66.40 74.30,71.30 77.50,71.30 77.50,76.10 88.30,76.10 88.30,81.10 118.50,81.10" fill="none" stroke="#5f4494" stroke-width="1.05" stroke-linejoin="miter" stroke-linecap="butt" /><line x1="91.4" y1="79.7" x2="91.4" y2="81.1" stroke="#5f4494" stroke-width="0.6"/><line x1="93" y1="79.7" x2="93" y2="81.1" stroke="#5f4494" stroke-width="0.6"/><line x1="97.1" y1="79.7" x2="97.1" y2="81.1" stroke="#5f4494" stroke-width="0.6"/><line x1="104.3" y1="79.7" x2="104.3" y2="81.1" stroke="#5f4494" stroke-width="0.6"/><line x1="108.3" y1="79.7" x2="108.3" y2="81.1" stroke="#5f4494" stroke-width="0.6"/><line x1="112.4" y1="79.7" x2="112.4" y2="81.1" stroke="#5f4494" stroke-width="0.6"/><line x1="116.4" y1="79.7" x2="116.4" y2="81.1" stroke="#5f4494" stroke-width="0.6"/><line x1="118.2" y1="79.7" x2="118.2" y2="81.1" stroke="#5f4494" stroke-width="0.6"/><polyline points="41.30,35.85 41.97,35.85 41.97,36.85 42.65,36.85 42.65,37.85 43.33,37.85 43.33,38.85 44.00,38.85 44.00,39.85 45.00,39.85 45.00,40.77 46.00,40.77 46.00,41.70 47.00,41.70 47.00,42.62 48.00,42.62 48.00,43.55 48.82,43.55 48.82,44.59 49.64,44.59 49.64,45.63 50.46,45.63 50.46,46.67 51.28,46.67 51.28,47.71 52.10,47.71 52.10,48.75 52.60,48.75 52.60,49.70 53.10,49.70 53.10,50.65 53.60,50.65 53.60,51.60 54.10,51.60 54.10,52.55 54.60,52.55 54.60,53.50 55.10,53.50 55.10,54.45 55.60,54.45 55.60,55.40 56.10,55.40 56.10,56.35 56.77,56.35 56.77,57.37 57.43,57.37 57.43,58.38 58.10,58.38 58.10,59.40 58.77,59.40 58.77,60.42 59.43,60.42 59.43,61.43 60.10,61.43 60.10,62.45 61.43,62.45 61.43,63.38 62.77,63.38 62.77,64.32 64.10,64.32 64.10,65.25 66.15,65.25 66.15,66.05 68.20,66.05 68.20,66.85 72.20,66.85 72.20,68.05 72.93,68.05 72.93,68.98 73.67,68.98 73.67,69.92 74.40,69.92 74.40,70.85 78.50,71.15 80.10,71.55 80.90,71.55 80.90,72.62 81.70,72.62 81.70,73.68 82.50,73.68 82.50,74.75 83.70,74.75 83.70,75.75 84.90,75.75 84.90,76.75 88.90,76.75 89.43,76.75 89.43,77.72 89.97,77.72 89.97,78.68 90.50,78.68 90.50,79.65 93.70,80.05 94.95,80.05 94.95,80.90 96.20,80.90 96.20,81.75 99.20,82.35 100.40,82.35 100.40,83.35 101.60,83.35 101.60,84.35 102.20,84.35 102.20,85.27 102.80,85.27 102.80,86.20 103.40,86.20 103.40,87.12 104.00,87.12 104.00,88.05 112.10,88.05 112.50,88.05 112.50,89.12 112.90,89.12 112.90,90.18 113.30,90.18 113.30,91.25 122.50,91.25 122.90,97.65 145.30,97.65" fill="none" stroke="#b31645" stroke-width="1.25" stroke-linejoin="miter" stroke-linecap="butt" /><line x1="93.9" y1="78.54" x2="93.9" y2="79.94" stroke="#b31645" stroke-width="0.6"/><line x1="111.6" y1="86.4" x2="111.6" y2="87.8" stroke="#b31645" stroke-width="0.6"/><line x1="116.4" y1="89.6" x2="116.4" y2="91.0" stroke="#b31645" stroke-width="0.6"/><line x1="125" y1="96.0" x2="125" y2="97.4" stroke="#b31645" stroke-width="0.6"/><line x1="128" y1="96.0" x2="128" y2="97.4" stroke="#b31645" stroke-width="0.6"/><line x1="134" y1="96.0" x2="134" y2="97.4" stroke="#b31645" stroke-width="0.6"/><line x1="145" y1="96.0" x2="145" y2="97.4" stroke="#b31645" stroke-width="0.6"/><polyline points="246.60,35.85 249.00,35.85 249.00,37.05 250.60,37.05 250.60,38.25 252.20,38.25 252.20,39.45 252.60,39.45 252.60,40.48 253.00,40.48 253.00,41.50 253.40,41.50 253.40,42.52 253.80,42.52 253.80,43.55 254.37,43.55 254.37,44.62 254.93,44.62 254.93,45.68 255.50,45.68 255.50,46.75 256.10,46.75 256.10,47.65 256.70,47.65 256.70,48.55 257.30,48.55 257.30,49.45 257.90,49.45 257.90,50.35 259.50,50.35 259.50,51.55 261.10,51.55 261.10,52.75 262.70,52.75 262.70,53.95 264.30,53.95 264.30,55.15 265.30,55.15 265.30,56.05 266.30,56.05 266.30,56.95 267.30,56.95 267.30,57.85 268.30,57.85 268.30,58.75 271.50,58.75 271.50,59.65 275.00,59.65 275.00,60.45 276.40,60.45 276.40,61.20 277.80,61.20 277.80,61.95 280.25,61.95 280.25,62.75 282.70,62.75 282.70,63.55 285.10,63.55 285.10,64.55 287.50,64.55 287.50,65.55 289.90,65.55 289.90,66.35 292.30,66.35 292.30,67.15 297.10,67.15 297.10,68.35 301.00,68.35 301.00,69.05 303.40,69.05 303.40,70.25 305.40,70.25 305.40,71.10 307.40,71.10 307.40,71.95 313.10,72.35 313.50,72.35 313.50,73.35 313.90,73.35 313.90,74.35 322.30,74.35 322.70,77.15 378.10,77.15" fill="none" stroke="#64ad46" stroke-width="1.1" stroke-linejoin="miter" stroke-linecap="butt" /><line x1="324" y1="75.5" x2="324" y2="76.9" stroke="#64ad46" stroke-width="0.6"/><line x1="327" y1="75.5" x2="327" y2="76.9" stroke="#64ad46" stroke-width="0.6"/><line x1="331" y1="75.5" x2="331" y2="76.9" stroke="#64ad46" stroke-width="0.6"/><line x1="339" y1="75.5" x2="339" y2="76.9" stroke="#64ad46" stroke-width="0.6"/><line x1="348" y1="75.5" x2="348" y2="76.9" stroke="#64ad46" stroke-width="0.6"/><line x1="359" y1="75.5" x2="359" y2="76.9" stroke="#64ad46" stroke-width="0.6"/><line x1="377" y1="75.5" x2="377" y2="76.9" stroke="#64ad46" stroke-width="0.6"/><polyline points="246.60,35.60 249.80,39.60 252.20,43.30 253.00,50.50 253.80,57.30 256.30,57.30 257.10,63.00 262.70,63.00 264.30,65.80 267.50,67.40 270.70,69.80 273.00,72.10 278.60,72.50 279.20,77.70 293.50,77.70 293.80,82.40 323.50,82.40" fill="none" stroke="#5f4494" stroke-width="1.05" stroke-linejoin="miter" stroke-linecap="butt" /><line x1="296.4" y1="81.0" x2="296.4" y2="82.4" stroke="#5f4494" stroke-width="0.6"/><line x1="298" y1="81.0" x2="298" y2="82.4" stroke="#5f4494" stroke-width="0.6"/><line x1="302" y1="81.0" x2="302" y2="82.4" stroke="#5f4494" stroke-width="0.6"/><line x1="309.3" y1="81.0" x2="309.3" y2="82.4" stroke="#5f4494" stroke-width="0.6"/><line x1="313.3" y1="81.0" x2="313.3" y2="82.4" stroke="#5f4494" stroke-width="0.6"/><line x1="317.4" y1="81.0" x2="317.4" y2="82.4" stroke="#5f4494" stroke-width="0.6"/><line x1="321.4" y1="81.0" x2="321.4" y2="82.4" stroke="#5f4494" stroke-width="0.6"/><line x1="323.2" y1="81.0" x2="323.2" y2="82.4" stroke="#5f4494" stroke-width="0.6"/><polyline points="246.60,35.85 247.08,35.85 247.08,36.89 247.56,36.89 247.56,37.93 248.04,37.93 248.04,38.97 248.52,38.97 248.52,40.01 249.00,40.01 249.00,41.05 249.60,41.05 249.60,42.07 250.20,42.07 250.20,43.10 250.80,43.10 250.80,44.12 251.40,44.12 251.40,45.15 251.67,45.15 251.67,46.08 251.93,46.08 251.93,47.02 252.20,47.02 252.20,47.95 252.47,47.95 252.47,48.88 252.73,48.88 252.73,49.82 253.00,49.82 253.00,50.75 254.10,50.75 254.10,51.68 255.20,51.68 255.20,52.62 256.30,52.62 256.30,53.55 257.10,53.55 257.10,54.48 257.90,54.48 257.90,55.42 258.70,55.42 258.70,56.35 259.23,56.35 259.23,57.30 259.77,57.30 259.77,58.25 260.30,58.25 260.30,59.20 260.83,59.20 260.83,60.15 261.37,60.15 261.37,61.10 261.90,61.10 261.90,62.05 262.97,62.05 262.97,63.12 264.03,63.12 264.03,64.18 265.10,64.18 265.10,65.25 267.10,65.25 267.10,66.45 269.10,66.45 269.10,67.65 270.40,67.65 270.40,68.55 271.70,68.55 271.70,69.45 273.00,69.45 273.00,70.35 276.20,70.35 276.20,71.15 277.00,71.15 277.00,72.15 277.80,72.15 277.80,73.15 278.60,73.15 278.60,74.15 279.40,74.15 279.40,75.15 282.70,75.15 282.70,76.35 285.90,76.35 285.90,77.15 286.97,77.15 286.97,78.12 288.03,78.12 288.03,79.08 289.10,79.08 289.10,80.05 290.70,80.05 290.70,81.25 292.30,81.25 292.30,82.45 293.90,82.45 293.90,83.25 295.50,83.25 295.50,84.05 299.50,84.05 299.50,84.85 301.00,85.15 304.20,85.15 304.20,85.95 305.27,85.95 305.27,86.88 306.33,86.88 306.33,87.82 307.40,87.82 307.40,88.75 309.00,88.75 309.00,90.05 316.30,90.45 316.70,93.35 327.30,93.35 327.50,99.45 350.10,99.45" fill="none" stroke="#b31645" stroke-width="1.25" stroke-linejoin="miter" stroke-linecap="butt" /><line x1="330" y1="97.8" x2="330" y2="99.2" stroke="#b31645" stroke-width="0.6"/><line x1="333" y1="97.8" x2="333" y2="99.2" stroke="#b31645" stroke-width="0.6"/><line x1="339" y1="97.8" x2="339" y2="99.2" stroke="#b31645" stroke-width="0.6"/><line x1="350" y1="97.8" x2="350" y2="99.2" stroke="#b31645" stroke-width="0.6"/><polyline points="41.30,195.85 43.05,195.85 43.05,197.05 44.80,197.05 44.80,198.25 46.40,198.25 46.40,199.05 48.00,199.05 48.00,199.85 48.62,199.85 48.62,200.88 49.25,200.88 49.25,201.90 49.88,201.90 49.88,202.92 50.50,202.92 50.50,203.95 51.30,203.95 51.30,204.85 52.10,204.85 52.10,205.75 52.90,205.75 52.90,206.65 53.70,206.65 53.70,207.55 54.30,207.55 54.30,208.45 54.90,208.45 54.90,209.35 55.50,209.35 55.50,210.25 56.10,210.25 56.10,211.15 57.43,211.15 57.43,212.08 58.77,212.08 58.77,213.02 60.10,213.02 60.10,213.95 60.90,213.95 60.90,214.95 61.70,214.95 61.70,215.95 62.50,215.95 62.50,216.95 63.30,216.95 63.30,217.95 66.50,217.95 66.50,218.75 70.00,218.75 70.00,219.45 72.00,219.85 73.60,219.85 73.60,220.90 75.20,220.90 75.20,221.95 80.10,221.95 80.10,223.15 84.90,223.15 84.90,224.35 88.90,224.35 88.90,225.15 92.90,225.15 92.90,225.95 95.25,225.95 95.25,226.85 97.60,226.85 97.60,227.75 108.10,228.25 108.50,228.25 108.50,229.25 108.90,229.25 108.90,230.25 117.70,230.25 118.10,233.45 173.30,233.45" fill="none" stroke="#64ad46" stroke-width="1.1" stroke-linejoin="miter" stroke-linecap="butt" /><line x1="119" y1="231.8" x2="119" y2="233.2" stroke="#64ad46" stroke-width="0.6"/><line x1="122" y1="231.8" x2="122" y2="233.2" stroke="#64ad46" stroke-width="0.6"/><line x1="126" y1="231.8" x2="126" y2="233.2" stroke="#64ad46" stroke-width="0.6"/><line x1="134" y1="231.8" x2="134" y2="233.2" stroke="#64ad46" stroke-width="0.6"/><line x1="143" y1="231.8" x2="143" y2="233.2" stroke="#64ad46" stroke-width="0.6"/><line x1="154" y1="231.8" x2="154" y2="233.2" stroke="#64ad46" stroke-width="0.6"/><line x1="172.2" y1="231.8" x2="172.2" y2="233.2" stroke="#64ad46" stroke-width="0.6"/><polyline points="41.30,195.85 42.25,195.85 42.25,196.85 43.20,196.85 43.20,197.85 43.73,197.85 43.73,198.92 44.27,198.92 44.27,199.98 44.80,199.98 44.80,201.05 46.00,201.05 46.00,201.90 47.20,201.90 47.20,202.75 47.73,202.75 47.73,203.68 48.27,203.68 48.27,204.62 48.80,204.62 48.80,205.55 50.05,205.55 50.05,206.55 51.30,206.55 51.30,207.55 51.90,207.55 51.90,208.55 52.50,208.55 52.50,209.55 53.10,209.55 53.10,210.55 53.70,210.55 53.70,211.55 54.30,211.55 54.30,212.55 54.90,212.55 54.90,213.55 55.50,213.55 55.50,214.55 56.10,214.55 56.10,215.55 56.90,215.55 56.90,216.48 57.70,216.48 57.70,217.42 58.50,217.42 58.50,218.35 59.10,218.35 59.10,219.47 59.70,219.47 59.70,220.60 60.30,220.60 60.30,221.72 60.90,221.72 60.90,222.85 62.50,222.85 62.50,223.85 64.10,223.85 64.10,224.85 65.75,224.85 65.75,225.65 67.40,225.65 67.40,226.45 71.20,226.45 71.20,227.15 72.80,227.15 72.80,228.35 74.40,228.35 74.40,229.55 78.50,229.95 79.70,229.95 79.70,230.75 80.90,230.75 80.90,231.55 81.97,231.55 81.97,232.62 83.03,232.62 83.03,233.68 84.10,233.68 84.10,234.75 88.10,234.75 88.10,235.55 89.17,235.55 89.17,236.48 90.23,236.48 90.23,237.42 91.30,237.42 91.30,238.35 94.50,238.35 97.00,238.35 97.00,239.75 99.20,240.35 100.80,240.35 100.80,241.15 102.40,241.15 102.40,241.95 102.93,241.95 102.93,243.02 103.47,243.02 103.47,244.08 104.00,244.08 104.00,245.15 112.10,245.55 112.70,245.55 112.70,246.75 113.30,246.75 113.30,247.95 122.10,247.95 122.50,252.95 145.40,252.95" fill="none" stroke="#b31645" stroke-width="1.25" stroke-linejoin="miter" stroke-linecap="butt" /><line x1="125" y1="251.3" x2="125" y2="252.7" stroke="#b31645" stroke-width="0.6"/><line x1="128" y1="251.3" x2="128" y2="252.7" stroke="#b31645" stroke-width="0.6"/><line x1="134" y1="251.3" x2="134" y2="252.7" stroke="#b31645" stroke-width="0.6"/><line x1="145" y1="251.3" x2="145" y2="252.7" stroke="#b31645" stroke-width="0.6"/><polyline points="246.60,195.85 247.40,195.85 247.40,196.75 248.20,196.75 248.20,197.65 249.00,197.65 249.00,198.55 249.80,198.55 249.80,199.45 251.00,199.45 251.00,200.70 252.20,200.70 252.20,201.95 252.52,201.95 252.52,202.91 252.84,202.91 252.84,203.87 253.16,203.87 253.16,204.83 253.48,204.83 253.48,205.79 253.80,205.79 253.80,206.75 254.30,206.75 254.30,207.71 254.80,207.71 254.80,208.67 255.30,208.67 255.30,209.63 255.80,209.63 255.80,210.59 256.30,210.59 256.30,211.55 257.37,211.55 257.37,212.48 258.43,212.48 258.43,213.42 259.50,213.42 259.50,214.35 261.10,214.35 261.10,215.35 262.70,215.35 262.70,216.35 263.90,216.35 263.90,217.35 265.10,217.35 265.10,218.35 266.17,218.35 266.17,219.45 267.23,219.45 267.23,220.55 268.30,220.55 268.30,221.65 271.50,221.65 271.50,222.45 275.00,222.45 275.00,223.05 276.73,223.05 276.73,224.08 278.47,224.08 278.47,225.12 280.20,225.12 280.20,226.15 285.10,226.15 285.10,227.35 287.50,227.35 287.50,228.15 289.90,228.15 289.90,228.95 293.90,228.95 293.90,230.15 297.90,230.15 297.90,230.95 301.00,230.95 301.00,231.65 303.40,231.65 303.40,232.85 305.40,232.85 305.40,233.80 307.40,233.80 307.40,234.75 313.10,234.55 313.50,234.55 313.50,235.35 313.90,235.35 313.90,236.15 322.30,236.15 322.70,239.35 378.10,239.35" fill="none" stroke="#64ad46" stroke-width="1.1" stroke-linejoin="miter" stroke-linecap="butt" /><line x1="301.2" y1="230.1" x2="301.2" y2="231.5" stroke="#64ad46" stroke-width="0.6"/><line x1="304.6" y1="231.77" x2="304.6" y2="233.17" stroke="#64ad46" stroke-width="0.6"/><line x1="306.9" y1="232.86" x2="306.9" y2="234.26" stroke="#64ad46" stroke-width="0.6"/><line x1="311.5" y1="232.96" x2="311.5" y2="234.36" stroke="#64ad46" stroke-width="0.6"/><line x1="316.2" y1="234.5" x2="316.2" y2="235.9" stroke="#64ad46" stroke-width="0.6"/><line x1="318.5" y1="234.5" x2="318.5" y2="235.9" stroke="#64ad46" stroke-width="0.6"/><line x1="320.8" y1="234.5" x2="320.8" y2="235.9" stroke="#64ad46" stroke-width="0.6"/><line x1="324" y1="237.7" x2="324" y2="239.1" stroke="#64ad46" stroke-width="0.6"/><line x1="327" y1="237.7" x2="327" y2="239.1" stroke="#64ad46" stroke-width="0.6"/><line x1="331" y1="237.7" x2="331" y2="239.1" stroke="#64ad46" stroke-width="0.6"/><line x1="339" y1="237.7" x2="339" y2="239.1" stroke="#64ad46" stroke-width="0.6"/><line x1="348" y1="237.7" x2="348" y2="239.1" stroke="#64ad46" stroke-width="0.6"/><line x1="359" y1="237.7" x2="359" y2="239.1" stroke="#64ad46" stroke-width="0.6"/><line x1="377" y1="237.7" x2="377" y2="239.1" stroke="#64ad46" stroke-width="0.6"/><polyline points="246.60,195.85 247.40,195.85 247.40,196.85 248.20,196.85 248.20,197.85 248.60,197.85 248.60,198.88 249.00,198.88 249.00,199.90 249.40,199.90 249.40,200.92 249.80,200.92 249.80,201.95 250.60,201.95 250.60,202.88 251.40,202.88 251.40,203.82 252.20,203.82 252.20,204.75 252.40,204.75 252.40,205.65 252.60,205.65 252.60,206.55 252.80,206.55 252.80,207.45 253.00,207.45 253.00,208.35 253.27,208.35 253.27,209.42 253.53,209.42 253.53,210.48 253.80,210.48 253.80,211.55 255.05,211.55 255.05,212.75 256.30,212.75 256.30,213.95 256.70,213.95 256.70,215.15 257.10,215.15 257.10,216.35 257.90,216.35 257.90,217.32 258.70,217.32 258.70,218.28 259.50,218.28 259.50,219.25 260.10,219.25 260.10,220.15 260.70,220.15 260.70,221.05 261.30,221.05 261.30,221.95 261.90,221.95 261.90,222.85 263.10,222.85 263.10,223.65 264.30,223.65 264.30,224.45 264.83,224.45 264.83,225.52 265.37,225.52 265.37,226.58 265.90,226.58 265.90,227.65 267.50,227.65 267.50,228.65 269.10,228.65 269.10,229.65 270.75,229.65 270.75,230.45 272.40,230.45 272.40,231.25 274.30,231.25 274.30,232.30 276.20,232.30 276.20,233.35 277.20,233.35 277.20,234.25 278.20,234.25 278.20,235.15 279.20,235.15 279.20,236.05 280.20,236.05 280.20,236.95 284.30,236.95 284.30,238.15 285.90,238.15 285.90,239.15 287.50,239.15 287.50,240.15 288.57,240.15 288.57,241.25 289.63,241.25 289.63,242.35 290.70,242.35 290.70,243.45 293.90,243.45 293.90,244.65 295.10,244.65 295.10,245.65 296.30,245.65 296.30,246.65 299.50,246.55 304.20,246.55 304.20,247.75 305.80,247.75 305.80,248.95 307.40,248.95 307.40,250.15 309.00,250.15 309.00,251.35 315.90,251.75 316.30,254.35 327.20,254.35 327.50,260.15 349.80,260.15" fill="none" stroke="#b31645" stroke-width="1.25" stroke-linejoin="miter" stroke-linecap="butt" /><line x1="276.9" y1="232.33" x2="276.9" y2="233.73" stroke="#b31645" stroke-width="0.6"/><line x1="285" y1="236.94" x2="285" y2="238.34" stroke="#b31645" stroke-width="0.6"/><line x1="308" y1="248.95" x2="308" y2="250.35" stroke="#b31645" stroke-width="0.6"/><line x1="311.5" y1="249.84" x2="311.5" y2="251.24" stroke="#b31645" stroke-width="0.6"/><line x1="319.6" y1="252.7" x2="319.6" y2="254.1" stroke="#b31645" stroke-width="0.6"/><line x1="323.1" y1="252.7" x2="323.1" y2="254.1" stroke="#b31645" stroke-width="0.6"/><line x1="330" y1="258.5" x2="330" y2="259.9" stroke="#b31645" stroke-width="0.6"/><line x1="333" y1="258.5" x2="333" y2="259.9" stroke="#b31645" stroke-width="0.6"/><line x1="339" y1="258.5" x2="339" y2="259.9" stroke="#b31645" stroke-width="0.6"/><line x1="349.5" y1="258.5" x2="349.5" y2="259.9" stroke="#b31645" stroke-width="0.6"/></g><rect x="0.5" y="0.5" width="519" height="496" fill="none" stroke="#000" stroke-width="1"/></svg></body></html>
